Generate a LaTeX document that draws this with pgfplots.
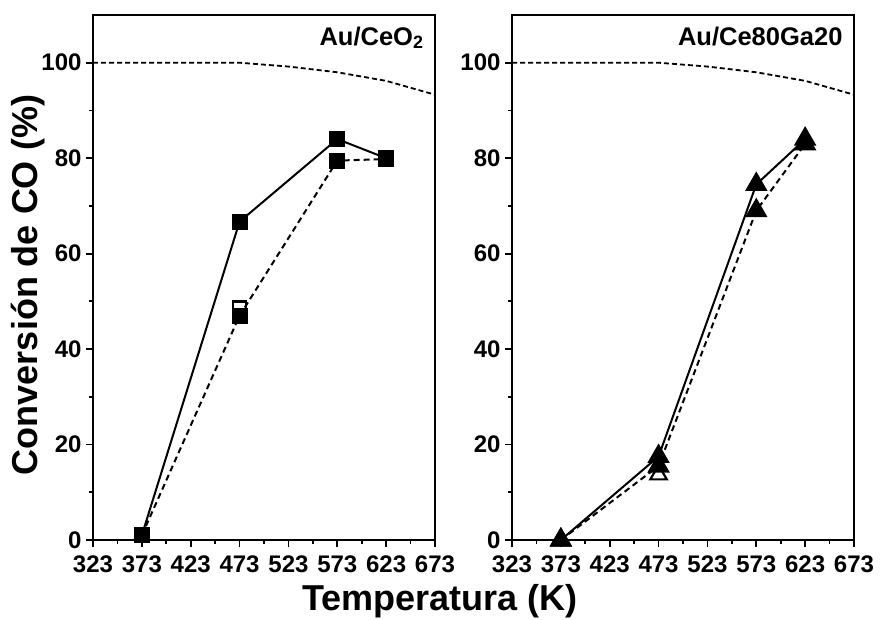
\documentclass[border=0pt]{standalone}
\usepackage{fontspec}
\setmainfont{Liberation Sans}
\usepackage{pgfplots}
\pgfplotsset{compat=1.18}
\pgfplotsset{panel/.style={
  scale only axis, width=342pt, height=525pt,
  xmin=323, xmax=673, ymin=0, ymax=110,
  xtick={323,373,...,673}, minor x tick num=1,
  ytick={0,20,...,100}, minor y tick num=1,
  axis line style={line width=2pt},
  tick style={line width=1.8pt, black},
  major tick length=7pt, minor tick length=4pt,
  tick align=outside, xtick pos=bottom, ytick pos=left,
  ticklabel style={font=\fontsize{24}{24}\selectfont\bfseries},
  xticklabel style={yshift=-5pt},
  yticklabel style={xshift=-1pt},
  /pgf/number format/assume math mode=true,
  /pgf/number format/1000 sep={},
  clip=false,
}}
\pgfplotstableread{
T eq
323 100
373 100
423 100
473 100
523 99.2
573 98.0
623 96.2
673 93.3
}\eqdata
\begin{document}
\begin{tikzpicture}
\begin{axis}[panel, at={(0pt,0pt)}]
\addplot[black, line width=1.8pt, dash pattern=on 5pt off 3pt] table[x=T,y=eq]{\eqdata};
\addplot[black, line width=2pt, dash pattern=on 6pt off 4pt, mark=square*, mark size=7pt, mark options={solid}] coordinates {(373,1) (473,47) (573,79.5) (623,79.8)};
\addplot[black, only marks, mark=square, mark size=6.5pt, mark options={line width=2.5pt, fill=white}] coordinates {(473,48.6)};
\addplot[black, line width=2pt, mark=square*, mark size=7pt] coordinates {(373,1) (473,66.7) (573,84) (623,80)};
\node[anchor=north east, font=\fontsize{25.5}{25.5}\selectfont\bfseries] at (rel axis cs:1,1) [xshift=-8pt, yshift=-8pt] {Au/CeO$_{\mathbf{2}}$};
\end{axis}
\begin{axis}[panel, at={(419pt,0pt)}]
\addplot[black, line width=1.8pt, dash pattern=on 5pt off 3pt] table[x=T,y=eq]{\eqdata};
\addplot[black, line width=2pt, dash pattern=on 6pt off 4pt, mark=triangle*, mark size=11pt, mark options={solid}] coordinates {(373,0) (473,15.5) (573,69) (623,83)};
\addplot[black, only marks, mark=triangle, mark size=9.5pt, mark options={line width=2.2pt, fill=white}] coordinates {(473,13.7)};
\addplot[black, line width=2pt, mark=triangle*, mark size=11pt] coordinates {(373,0) (473,17.5) (573,74.5) (623,84)};
\node[anchor=north east, font=\fontsize{25.5}{25.5}\selectfont\bfseries] at (rel axis cs:1,1) [xshift=-8pt, yshift=-8pt] {Au/Ce80Ga20};
\end{axis}
\node[font=\fontsize{36}{36}\selectfont\bfseries] at (347pt,-61pt) {Temperatura (K)};
\node[rotate=90, font=\fontsize{36}{36}\selectfont\bfseries] at (-65pt,255pt) {Conversión de CO (\%)};
\pgfresetboundingbox
\path[use as bounding box] (-93pt,-79pt) rectangle (787pt,540pt);
\end{tikzpicture}
\end{document}
